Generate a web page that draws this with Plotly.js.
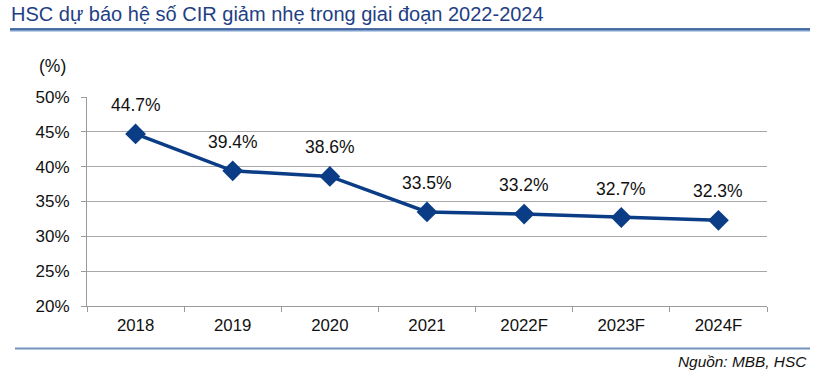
<!DOCTYPE html>
<html>
<head>
<meta charset="utf-8">
<script src="https://cdn.plot.ly/plotly-3.0.1.min.js"></script>
<style>html,body{margin:0;padding:0;background:#fff;}#chart{width:818px;height:376px;}</style>
</head>
<body>
<div id="chart"></div>
<script>
const years = ["2018", "2019", "2020", "2021", "2022F", "2023F", "2024F"];
const cir = [44.7, 39.4, 38.6, 33.5, 33.2, 32.7, 32.3];
const yTicks = [20, 25, 30, 35, 40, 45, 50];
const yTickLabels = ["20%", "25%", "30%", "35%", "40%", "45%", "50%"];

const L = 87, R = 767, T = 97, B = 306;
const W = 818, H = 376;
const pw = R - L, ph = B - T;
const px = p => (p - L) / pw;
const py = p => (B - p) / ph;
const FONT = "Liberation Sans, Arial, sans-serif";

const trace = {
  x: years, y: cir, type: "scatter", mode: "lines+markers",
  line: {color: "#0B3D86", width: 3.5},
  marker: {symbol: "diamond", size: 16, color: "#0B3D86"},
  hoverinfo: "skip", cliponaxis: false
};

const labelAnns = years.map((c, i) => ({
  x: i, y: cir[i], xref: "x", yref: "y",
  text: cir[i].toFixed(1) + "%", showarrow: false, yshift: 29,
  font: {family: FONT, size: 17.5, color: "#111"}
}));

const layout = {
  width: W, height: H,
  margin: {l: L, r: W - R, t: T, b: H - B, pad: 0},
  paper_bgcolor: "#fff", plot_bgcolor: "#fff",
  showlegend: false,
  font: {family: FONT, size: 17, color: "#111"},
  xaxis: {
    type: "category", range: [-0.5, 6.5], fixedrange: true,
    showgrid: false, showline: true, linecolor: "#9a9a9a", linewidth: 1,
    ticks: "outside", ticklen: 5, tickcolor: "#9a9a9a", tickson: "boundaries",
    tickfont: {size: 16.8, color: "#111"}, zeroline: false, ticklabelstandoff: 4
  },
  yaxis: {
    range: [20, 50], tickvals: yTicks, ticktext: yTickLabels, fixedrange: true,
    showgrid: true, gridcolor: "#a8a8a8", gridwidth: 1,
    showline: true, linecolor: "#9a9a9a", linewidth: 1,
    ticks: "outside", ticklen: 5, tickcolor: "#9a9a9a",
    tickfont: {size: 17, color: "#111"}, zeroline: false, ticklabelstandoff: 8
  },
  shapes: [
    {type: "line", xref: "paper", yref: "paper", x0: px(10), x1: px(810), y0: py(30), y1: py(30),
     line: {color: "#7FA0CC", width: 3}},
    {type: "line", xref: "paper", yref: "paper", x0: px(10), x1: px(810), y0: py(29), y1: py(29),
     line: {color: "#2E558F", width: 1.5}},
    {type: "line", xref: "paper", yref: "paper", x0: px(15), x1: px(810), y0: py(348.5), y1: py(348.5),
     line: {color: "#7393BC", width: 2}}
  ],
  annotations: labelAnns.concat([
    {xref: "paper", yref: "paper", x: px(9), y: py(14), xanchor: "left", yanchor: "middle",
     text: "HSC dự báo hệ số CIR giảm nhẹ trong giai đoạn 2022-2024", showarrow: false,
     font: {family: FONT, size: 20, color: "#1F3F85"}},
    {xref: "paper", yref: "paper", x: px(37), y: py(66), xanchor: "left", yanchor: "middle",
     text: "(%)", showarrow: false, font: {family: FONT, size: 17.5, color: "#111"}},
    {xref: "paper", yref: "paper", x: px(809), y: py(361), xanchor: "right", yanchor: "middle",
     text: "<i>Nguồn: MBB, HSC</i>", showarrow: false, font: {family: FONT, size: 15.4, color: "#111"}}
  ])
};

Plotly.newPlot("chart", [trace], layout, {staticPlot: true, displayModeBar: false});
</script>
</body>
</html>
